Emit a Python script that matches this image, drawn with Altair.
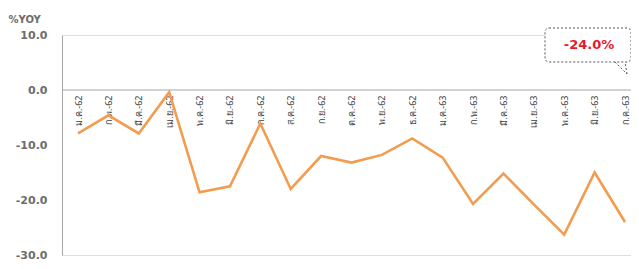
import altair as alt
import pandas as pd

months = ["ม.ค.-62", "ก.พ.-62", "มี.ค.-62", "เม.ย.-62", "พ.ค.-62", "มิ.ย.-62",
          "ก.ค.-62", "ส.ค.-62", "ก.ย.-62", "ต.ค.-62", "พ.ย.-62", "ธ.ค.-62",
          "ม.ค.-63", "ก.พ.-63", "มี.ค.-63", "เม.ย.-63", "พ.ค.-63", "มิ.ย.-63",
          "ก.ค.-63"]
values = [-7.9, -4.6, -7.9, -0.4, -18.6, -17.5, -6.1, -18.0, -12.0, -13.2,
          -11.8, -8.8, -12.3, -20.7, -15.2, -20.8, -26.3, -15.0, -24.0]
y_ticks = [-30, -20, -10, 0, 10]
callout_text = [f"{values[-1]:.1f}%"]

df = pd.DataFrame({"month": months, "value": values})

W, H = 569, 220
grey = "#6d6d6d"
zero_offset = -(H * 30 / 40)

x_enc = alt.X(
    "month:N", sort=months,
    scale=alt.Scale(type="point", range=[16, W - 6], padding=0),
    axis=alt.Axis(orient="bottom", offset=zero_offset, title=None, ticks=False,
                  domain=False, labelAngle=-90, labelPadding=5,
                  labelFontSize=9, labelColor="#404040",
                  labelFont="Noto Sans", grid=False),
)
y_enc = alt.Y(
    "value:Q",
    scale=alt.Scale(domain=[-30, 10], nice=False, zero=False),
    axis=alt.Axis(values=y_ticks,
                  labelExpr="replace(format(datum.value, '.1f'), '\u2212', '-')",
                  ticks=False, grid=False,
                  labelPadding=15, labelFontSize=11, labelFontWeight="bold",
                  labelColor=grey, labelFont="DejaVu Sans",
                  domainColor="#a6a6a6",
                  title="%YOY", titleAngle=0, titleAlign="left",
                  titleBaseline="middle", titleX=-54, titleY=-16,
                  titleFontSize=10, titleFontWeight="bold", titleColor=grey,
                  titleFont="DejaVu Sans"),
)

zero = alt.Chart(pd.DataFrame({"z": [0]})).mark_rule(
    color="#a6a6a6", strokeWidth=1
).encode(y=alt.Y("z:Q", scale=alt.Scale(domain=[-30, 10], nice=False, zero=False)),
         x=alt.value(0), x2=alt.value(W))

line = alt.Chart(df).mark_line(color="#f39c4f", strokeWidth=2.6).encode(
    x=x_enc, y=y_enc
)

cdf = pd.DataFrame({"t": callout_text})
box = alt.Chart(cdf).mark_rect(
    fill="white", stroke="#555555", strokeDash=[2, 2], strokeWidth=1,
    cornerRadius=4
).encode(x=alt.value(483), x2=alt.value(569), y=alt.value(-7), y2=alt.value(27))
tail1 = alt.Chart(cdf).mark_rule(color="#555555", strokeDash=[2, 2]).encode(
    x=alt.value(553), x2=alt.value(565), y=alt.value(27), y2=alt.value(39))
tail2 = alt.Chart(cdf).mark_rule(color="#555555", strokeDash=[2, 2]).encode(
    x=alt.value(565), x2=alt.value(563), y=alt.value(39), y2=alt.value(27))
label = alt.Chart(cdf).mark_text(
    color="#e8192c", fontSize=13, fontWeight="bold", font="DejaVu Sans"
).encode(text="t:N", x=alt.value(527), y=alt.value(10))

chart = alt.layer(zero, line, box, tail1, tail2, label).properties(
    width=W, height=H,
    autosize=alt.AutoSizeParams(type="none"),
    padding={"left": 54, "top": 27, "right": 0, "bottom": 6},
).configure_view(stroke=None).configure(background="white")

chart.save("out.html", embed_options={"renderer": "svg", "actions": False})
